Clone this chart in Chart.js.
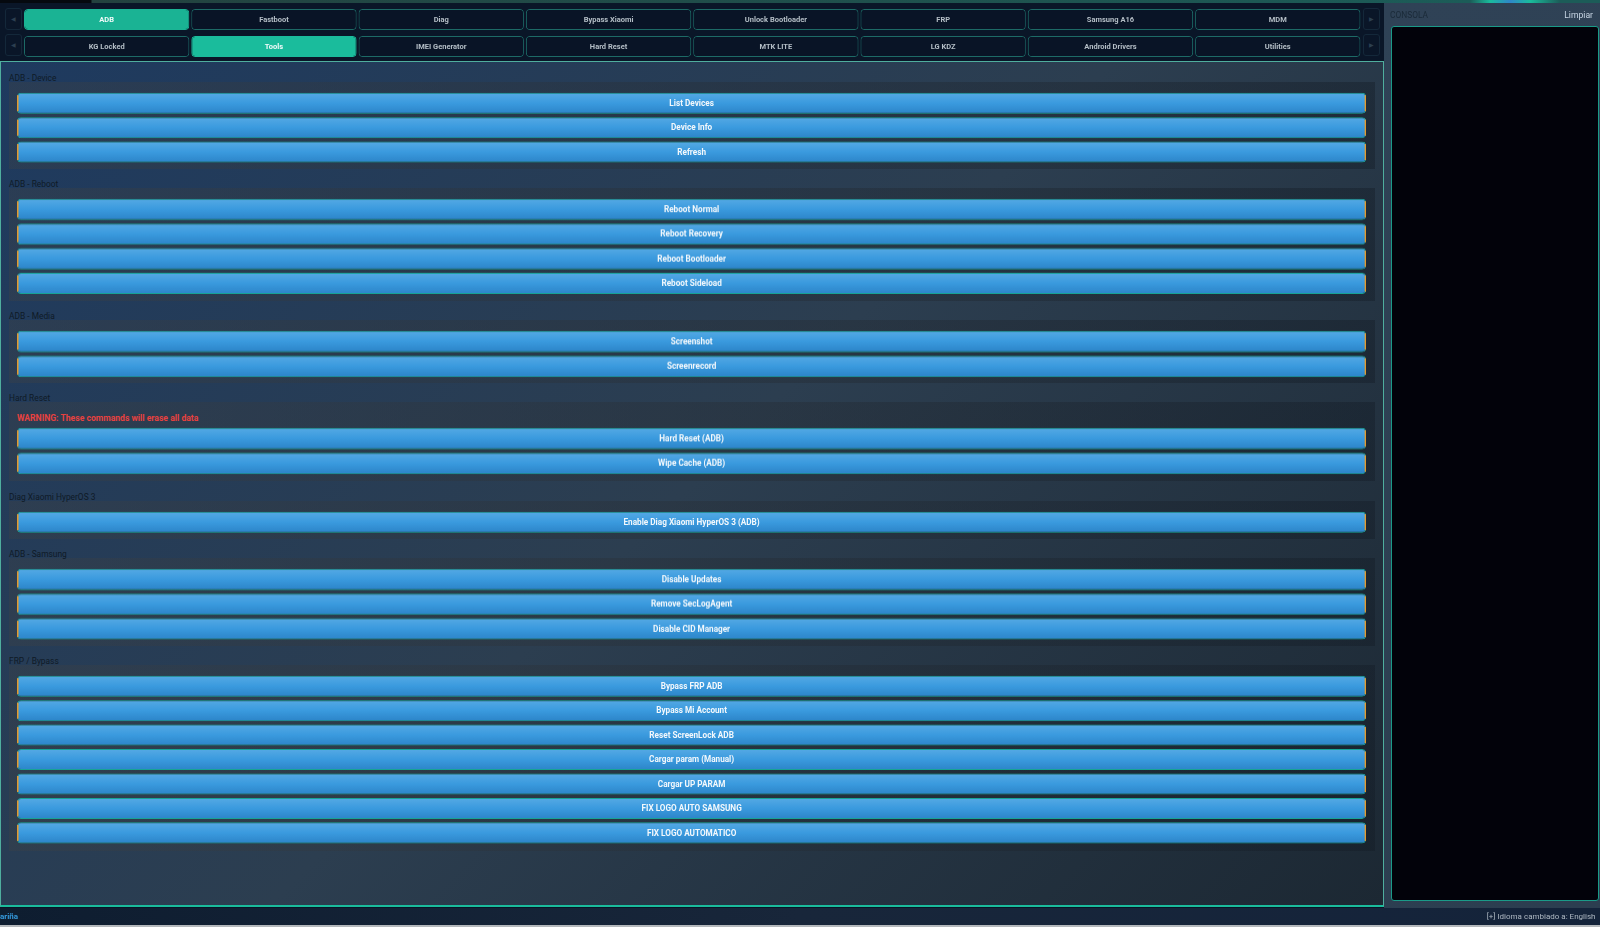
<!DOCTYPE html>
<html>
<head>
<meta charset="utf-8">
<title>ADB Tools</title>
<script src="https://cdn.jsdelivr.net/npm/chart.js@4"></script>
<style>
    * { box-sizing: border-box; }
    html, body { margin: 0; width: 1600px; height: 927px; overflow: hidden; background: #0a1628; font-family: Roboto, sans-serif; }
    #app { position: relative; width: 1600px; height: 927px; filter: blur(0.35px); }
    #topLine { position: absolute; left: 0; top: 0; width: 1600px; height: 3px; background: linear-gradient(to right, #05090f 0, #05090f 91px, #23423f 92px, #1c5c58 1470px, #1abc9c 1490px, #2f86c9 1510px, #1abc9c 1530px, #1c5c58 1560px); }
    #tabArea { position: absolute; left: 0; top: 3px; width: 1383px; height: 57px; background: #0a1628; }
    .tabRow { position: absolute; left: 22.7px; width: 1338.4px; height: 21px; }
    .arrow { position: absolute; width: 17px; height: 22px; border: 1px solid #14283a; border-radius: 3px; color: #2c3f50; font-size: 6px; line-height: 20px; text-align: center; }
    #mainPanel { position: absolute; left: 0; top: 61px; width: 1384px; height: 846px; padding: 7.5px 8px 0 8px; border: 1.5px solid #4fae9e; border-bottom: 2px solid #1abc9c; background: linear-gradient(135deg, #1e3a5f 0%, #2c3e50 50%, #1c2833 100%); }
    .groupLabel { position: relative; top: 2px; height: 12px; line-height: 12px; font-size: 8.4px; color: #0f1a26; }
    .groupBox { padding: 9px 8px 5.5px 8px; margin-bottom: 7px; background: linear-gradient(to right, rgba(60, 65, 70, 0.4), rgba(18, 26, 36, 0.4)); }
    .warning { height: 15.6px; line-height: 14px; font-size: 8.6px; font-weight: 700; color: #e8413f; margin-top: -0.5px; }
    .chartWrap { position: relative; width: 1349.2px; }
    #rightPanel { position: absolute; left: 1384px; top: 3px; width: 216px; height: 905px; background: linear-gradient(160deg, #2f4256, #2c3e50); }
    #consoleTitle { position: absolute; left: 6px; top: 6px; font-size: 8.4px; line-height: 12px; color: #1a2a38; }
    #clearBtn { position: absolute; right: 7px; top: 6px; font-size: 8.6px; line-height: 12px; color: #c8d6e5; }
    #console { position: absolute; left: 6.5px; top: 23px; width: 208.5px; height: 875px; background: #02020a; border: 1.5px solid #1a9a88; border-radius: 3px; }
    #statusBar { position: absolute; left: 0; top: 908px; width: 1600px; height: 17px; background: linear-gradient(to right, #0e1d30, #18263a 50%, #14233a); font-size: 8px; line-height: 18px; }
    #statusLeft { position: absolute; left: 0; color: #3498db; font-weight: 700; }
    #statusRight { position: absolute; right: 4.5px; color: #aeb8c2; }
    #bottomEdge { position: absolute; left: 0; top: 925px; width: 1600px; height: 2px; background: #b4b8bc; }
</style>
</head>
<body>
<div id="app">
    <div id="topLine"></div>
    <div id="tabArea">
        <div class="arrow" style="left:4.5px;top:5px">&#9664;</div>
        <div class="arrow" style="left:4.5px;top:31px">&#9664;</div>
        <div class="arrow" style="left:1363px;top:5px">&#9654;</div>
        <div class="arrow" style="left:1363px;top:31px">&#9654;</div>
        <div class="tabRow" style="top:6px"><canvas id="tabChartTop"></canvas></div>
        <div class="tabRow" style="top:32.5px"><canvas id="tabChartBottom"></canvas></div>
    </div>
    <div id="mainPanel"></div>
    <div id="rightPanel">
        <div id="consoleTitle">CONSOLA</div>
        <div id="clearBtn">Limpiar</div>
        <div id="console"></div>
    </div>
    <div id="statusBar">
        <span id="statusLeft">ariña</span>
        <span id="statusRight">[+] Idioma cambiado a: English</span>
    </div>
    <div id="bottomEdge"></div>
</div>
<script>
    // Data /////////////////////////////////////////////////////////////
    var tabsTop = ["ADB", "Fastboot", "Diag", "Bypass Xiaomi", "Unlock Bootloader", "FRP", "Samsung A16", "MDM"];
    var tabsTopValues = [1, 1, 1, 1, 1, 1, 1, 1];
    var tabsBottom = ["KG Locked", "Tools", "IMEI Generator", "Hard Reset", "MTK LITE", "LG KDZ", "Android Drivers", "Utilities"];
    var tabsBottomValues = [1, 1, 1, 1, 1, 1, 1, 1];

    var deviceButtons = ["List Devices", "Device Info", "Refresh"];
    var deviceValues = [1, 1, 1];
    var rebootButtons = ["Reboot Normal", "Reboot Recovery", "Reboot Bootloader", "Reboot Sideload"];
    var rebootValues = [1, 1, 1, 1];
    var mediaButtons = ["Screenshot", "Screenrecord"];
    var mediaValues = [1, 1];
    var hardResetButtons = ["Hard Reset (ADB)", "Wipe Cache (ADB)"];
    var hardResetValues = [1, 1];
    var diagButtons = ["Enable Diag Xiaomi HyperOS 3 (ADB)"];
    var diagValues = [1];
    var samsungButtons = ["Disable Updates", "Remove SecLogAgent", "Disable CID Manager"];
    var samsungValues = [1, 1, 1];
    var frpButtons = ["Bypass FRP ADB", "Bypass Mi Account", "Reset ScreenLock ADB", "Cargar param (Manual)", "Cargar UP PARAM", "FIX LOGO AUTO SAMSUNG", "FIX LOGO AUTOMATICO"];
    var frpValues = [1, 1, 1, 1, 1, 1, 1];

    var ROW_HEIGHT = 24.45;

    // Text and edges on the bars ///////////////////////////////////////
    var barDecor = {
        id: "barDecor",
        afterDatasetsDraw: function (chart, args, opts) {
            var ctx = chart.ctx;
            var meta = chart.getDatasetMeta(0);
            ctx.save();
            meta.data.forEach(function (bar, i) {
                var box = bar.getProps(["x", "y", "base", "width", "height"], true);
                var label = chart.data.labels[i];
                var cx, cy;
                if (opts.edges) {
                    var top = box.y - box.height / 2;
                    ctx.fillStyle = "#e39a2d";
                    ctx.fillRect(box.base, top + 2.5, 1.5, box.height - 5);
                    ctx.fillRect(box.x - 1.5, top + 2.5, 1.5, box.height - 5);
                    cx = (box.base + box.x) / 2;
                    cy = box.y;
                } else {
                    cx = box.x;
                    cy = (box.y + box.base) / 2;
                }
                ctx.font = "700 " + opts.size + "px Roboto";
                ctx.textAlign = "center";
                ctx.textBaseline = "middle";
                ctx.fillStyle = opts.colorFor(i);
                ctx.fillText(label, cx, cy + 0.6);
            });
            ctx.restore();
        }
    };

    function hiddenAxis() {
        return { display: false, min: 0, max: 1, grid: { display: false } };
    }

    function baseOptions(axis, decor) {
        return {
            indexAxis: axis,
            responsive: true,
            maintainAspectRatio: false,
            animation: false,
            events: [],
            layout: { padding: 0 },
            plugins: { legend: { display: false }, tooltip: { enabled: false }, barDecor: decor },
            scales: axis === "y"
                ? { x: hiddenAxis(), y: { display: false, grid: { display: false } } }
                : { y: hiddenAxis(), x: { display: false, grid: { display: false } } }
        };
    }

    // Tab rows /////////////////////////////////////////////////////////
    function buildTabs(id, labels, values, activeIndex, activeColor) {
        new Chart(document.getElementById(id), {
            type: "bar",
            plugins: [barDecor],
            data: {
                labels: labels,
                datasets: [{
                    data: values,
                    barPercentage: 0.988,
                    categoryPercentage: 1,
                    borderRadius: 4,
                    borderSkipped: false,
                    borderWidth: 1,
                    backgroundColor: function (c) { return c.dataIndex === activeIndex ? activeColor : "#091426"; },
                    borderColor: function (c) { return c.dataIndex === activeIndex ? activeColor : "#1d6a66"; }
                }]
            },
            options: baseOptions("x", {
                size: 7.5,
                edges: false,
                colorFor: function (i) { return i === activeIndex ? "#f2fbfa" : "#b4bec6"; }
            })
        });
    }
    buildTabs("tabChartTop", tabsTop, tabsTopValues, 0, "#1ab394");
    buildTabs("tabChartBottom", tabsBottom, tabsBottomValues, 1, "#1abc9c");

    // Button groups ////////////////////////////////////////////////////
    function blueFill(c) {
        var chart = c.chart;
        var area = chart.chartArea;
        if (!area) { return "#3498db"; }
        var rowH = (area.bottom - area.top) / chart.data.labels.length;
        var top = area.top + rowH * c.dataIndex;
        var grad = chart.ctx.createLinearGradient(0, top + 1.7, 0, top + rowH - 1.7);
        grad.addColorStop(0, "#55a9e4");
        grad.addColorStop(0.5, "#3a9ade");
        grad.addColorStop(1, "#2c84c8");
        return grad;
    }

    function addGroup(title, labels, values, warning) {
        var panel = document.getElementById("mainPanel");
        var head = document.createElement("div");
        head.className = "groupLabel";
        head.textContent = title;
        panel.appendChild(head);

        var box = document.createElement("div");
        box.className = "groupBox";
        if (warning) {
            var warn = document.createElement("div");
            warn.className = "warning";
            warn.textContent = warning;
            box.appendChild(warn);
            box.style.marginBottom = "8px";
        }
        var wrap = document.createElement("div");
        wrap.className = "chartWrap";
        wrap.style.height = (labels.length * ROW_HEIGHT) + "px";
        var canvas = document.createElement("canvas");
        wrap.appendChild(canvas);
        box.appendChild(wrap);
        panel.appendChild(box);

        new Chart(canvas, {
            type: "bar",
            plugins: [barDecor],
            data: {
                labels: labels,
                datasets: [{
                    data: values,
                    barPercentage: 0.86,
                    categoryPercentage: 1,
                    borderRadius: 4,
                    borderSkipped: false,
                    borderWidth: 1,
                    borderColor: "#17a396",
                    backgroundColor: blueFill
                }]
            },
            options: baseOptions("y", {
                size: 8.2,
                edges: true,
                colorFor: function () { return "#f3f8fc"; }
            })
        });
    }

    addGroup("ADB - Device", deviceButtons, deviceValues);
    addGroup("ADB - Reboot", rebootButtons, rebootValues);
    addGroup("ADB - Media", mediaButtons, mediaValues);
    addGroup("Hard Reset", hardResetButtons, hardResetValues, "WARNING: These commands will erase all data");
    addGroup("Diag Xiaomi HyperOS 3", diagButtons, diagValues);
    addGroup("ADB - Samsung", samsungButtons, samsungValues);
    addGroup("FRP / Bypass", frpButtons, frpValues);
</script>
</body>
</html>
